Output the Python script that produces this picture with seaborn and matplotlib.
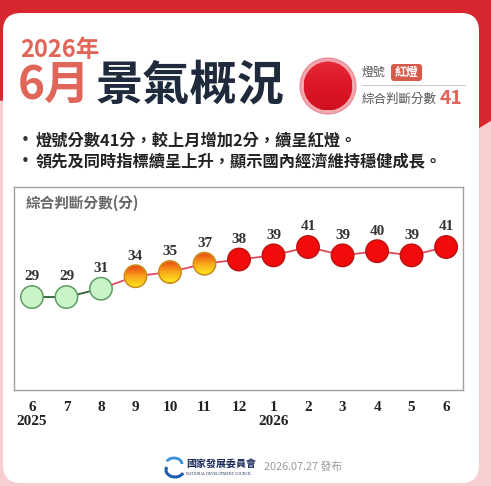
import matplotlib
matplotlib.use("Agg")
import matplotlib.pyplot as plt
import matplotlib.transforms as mtransforms
from matplotlib.colors import LinearSegmentedColormap
from matplotlib.patches import Circle, FancyBboxPatch, Polygon, Arc
import numpy as np
import pandas as pd
import seaborn as sns

# ---------------------------
# DATA
# ---------------------------
months = ["6", "7", "8", "9", "10", "11", "12", "1", "2", "3", "4", "5", "6"]
years = ["2025", "", "", "", "", "", "", "2026", "", "", "", "", ""]
scores = [29, 29, 31, 34, 35, 37, 38, 39, 41, 39, 40, 39, 41]
lights = ["green", "green", "green", "yellow_red", "yellow_red", "yellow_red",
          "red", "red", "red", "red", "red", "red", "red"]

df = pd.DataFrame({"idx": range(len(months)), "score": scores, "light": lights})

sns.set_theme(style="white")
plt.rcParams["font.family"] = ["Noto Sans CJK TC", "DejaVu Sans"]

fig = plt.figure(figsize=(4.91, 4.86), dpi=100)

# ---------------------------
# BACKGROUND (pixel coordinates)
# ---------------------------
bg = fig.add_axes([0, 0, 1, 1])
bg.set_xlim(0, 491)
bg.set_ylim(486, 0)
bg.axis("off")
bg.add_patch(Polygon([[0, 486], [491, 486], [491, 0], [0, 0]], color="#f8cfd0", zorder=0))
bg.add_patch(Polygon([[0, 0], [491, 0], [491, 120], [478, 128], [478, 40],
                      [3, 40], [3, 100], [0, 100]], color="#d7262e", zorder=1))
bg.add_patch(FancyBboxPatch((3, 13), 476, 470, boxstyle="round,pad=0,rounding_size=18",
                            facecolor="white", edgecolor="none", zorder=2))

# header
bg.text(20, 50, "2026年", fontsize=17, fontweight="bold", color="#e0665a", va="center", zorder=3)
bg.text(18, 86, "6月", fontsize=33, fontweight="bold", color="#e0665a", va="center", zorder=3)
bg.text(96, 86, "景氣概況", fontsize=34, fontweight="bold", color="#1f2b3d", va="center", zorder=3)

# big red light
bg.add_patch(Circle((328, 86), 28, facecolor="#f3a6ad", edgecolor="#e88a94", lw=0.8, zorder=3))
grad = np.linspace(0, 1, 100).reshape(-1, 1)
btn_cmap = LinearSegmentedColormap.from_list("btn", ["#e62a36", "#dc1626", "#d01020"])
im = bg.imshow(grad, cmap=btn_cmap, extent=(304, 352, 110, 62), aspect="auto", zorder=4)
im.set_clip_path(Circle((328, 86), 24.5, transform=bg.transData))

# right info panel
bg.text(362, 72, "燈號", fontsize=8.6, color="#555555", va="center", zorder=3)
bg.add_patch(FancyBboxPatch((391, 64), 31, 17, boxstyle="round,pad=0,rounding_size=3",
                            facecolor="#d75a4a", edgecolor="none", zorder=3))
bg.text(406.5, 72.5, "紅燈", fontsize=8.6, fontweight="bold", color="white",
        ha="center", va="center", zorder=4)
bg.plot([362, 465], [85.5, 85.5], color="#cccccc", lw=0.8, zorder=3)
bg.text(362, 99, "綜合判斷分數", fontsize=9, color="#555555", va="center", zorder=3)
bg.text(440, 98, "41", fontsize=14, fontweight="bold", color="#e0665a", va="center", zorder=3)

# bullets
bullets = ["燈號分數41分，較上月增加2分，續呈紅燈。",
           "領先及同時指標續呈上升，顯示國內經濟維持穩健成長。"]
for i, line in enumerate(bullets):
    y = 140 + i * 21
    bg.text(25, y, "•", fontsize=11, color="#333333", va="center", ha="center",
            family="DejaVu Sans", zorder=3)
    bg.text(36, y, line, fontsize=11.7, fontweight="bold", color="#222222", va="center", zorder=3)

# footer
bg.add_patch(Arc((175, 470), 18, 14, theta1=20, theta2=200, color="#1d5fae", lw=2.2, zorder=3))
bg.add_patch(Arc((174, 464), 16, 12, theta1=200, theta2=360, color="#3a8fd6", lw=2.0, zorder=3))
bg.text(186, 464, "國家發展委員會", fontsize=7.2, fontweight="bold", color="#1a2a5a",
        va="center", zorder=3)
bg.text(186, 474, "NATIONAL DEVELOPMENT COUNCIL", fontsize=2.8, color="#1a2a5a",
        va="center", family="Liberation Serif", zorder=3)
bg.text(264, 467, "2026.07.27 發布", fontsize=7.8, color="#9a9a9a", va="center", zorder=3)

# ---------------------------
# CHART
# ---------------------------
ax = fig.add_axes([14 / 491, (486 - 390) / 486, 449 / 491, 203 / 486], zorder=5)
ax.set_facecolor("white")
for s in ax.spines.values():
    s.set_color("#a0a0a0")
    s.set_linewidth(1)

sns.lineplot(data=df.iloc[:3], x="idx", y="score", color="#2f5f33", lw=1.3, ax=ax, zorder=2)
sns.lineplot(data=df.iloc[2:], x="idx", y="score", color="#e04a5c", lw=1.3, ax=ax, zorder=2)

msize = 260
palette = {"green": "#c9f3c9", "yellow_red": "#f6a623", "red": "#f20b0b"}
edges = {"green": "#5e9d5e", "yellow_red": "#c98a1a", "red": "#c01010"}
sns.scatterplot(data=df, x="idx", y="score", hue="light", palette=palette, s=msize,
                edgecolor=[edges[l] for l in lights], linewidth=1.1, legend=False,
                ax=ax, zorder=3)

ax.set_xlim(-0.52, 12.49)
ax.set_ylim(6.7, 55.4)

# gradient fill for the yellow-red lights
orange_cmap = LinearSegmentedColormap.from_list("yr", ["#ffe61e", "#f7a51a", "#ea4a14"])
r_pt = np.sqrt(msize) / 2 - 0.6
r_px = r_pt * fig.dpi / 72
inv = ax.transData.inverted()
for x, y, l in zip(df["idx"], df["score"], lights):
    if l != "yellow_red":
        continue
    px, py = ax.transData.transform((x, y))
    x0, y0 = inv.transform((px - r_px, py - r_px))
    x1, y1 = inv.transform((px + r_px, py + r_px))
    g = ax.imshow(grad, cmap=orange_cmap, origin="lower", extent=(x0, x1, y0, y1),
                  aspect="auto", zorder=3.5)
    clip = Circle((0, 0), r_pt / 72, transform=fig.dpi_scale_trans +
                  mtransforms.ScaledTranslation(x, y, ax.transData))
    g.set_clip_path(clip)
ax.set_xlim(-0.52, 12.49)
ax.set_ylim(6.7, 55.4)

# value labels
for x, y in zip(df["idx"], df["score"]):
    ax.annotate(str(y), (x, y), xytext=(0, 14.5), textcoords="offset points",
                ha="center", va="center", fontsize=11, fontweight="bold",
                family="Liberation Serif", color="#333333", zorder=4)

ax.set_xticks(df["idx"])
ax.set_xticklabels(months, fontsize=11, fontweight="bold", family="Liberation Serif",
                   color="#222222")
ax.tick_params(axis="x", length=0, pad=8)
ax.set_yticks([])
ax.set_xlabel("")
ax.set_ylabel("")
year_tf = mtransforms.blended_transform_factory(ax.transData, ax.transAxes)
for x, yr in zip(df["idx"], years):
    if yr:
        ax.text(x, -0.155, yr, transform=year_tf, ha="center", va="center", fontsize=11,
                fontweight="bold", family="Liberation Serif", color="#222222")

ax.text(0.027, 0.92, "綜合判斷分數(分)", transform=ax.transAxes, fontsize=10.5,
        fontweight="bold", color="#666666", va="center")

fig.savefig("out.png", dpi=100)
